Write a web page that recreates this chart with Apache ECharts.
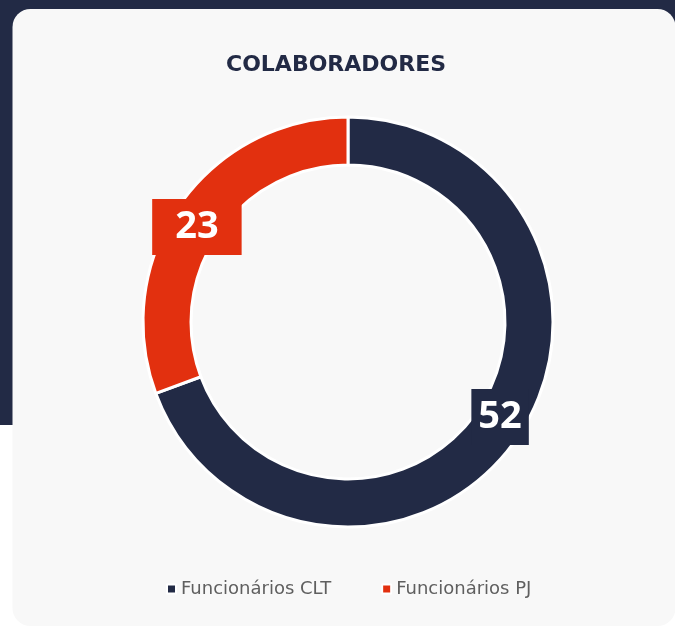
<!DOCTYPE html>
<html>
<head>
<meta charset="utf-8">
<script src="https://cdn.jsdelivr.net/npm/echarts@6/dist/echarts.min.js"></script>
<style>
  html, body { margin: 0; padding: 0; background: #ffffff; }
  #chart { width: 675px; height: 627px; }
</style>
</head>
<body>
<div id="chart"></div>
<script>
// dados do gráfico
var categorias = ['Funcionários CLT', 'Funcionários PJ'];
var valores = [52, 23];
var cores = ['#222a45', '#e2300f'];

var NAVY = '#222a45';

var myChart = echarts.init(document.getElementById('chart'));

// caixa de rótulo de cada fatia (largura e deslocamento diferentes no original)
var paddings = [[8, 7, 8, 7], [8, 23, 8, 23]];
var offsets = [[1, -10], [0, 10]];

var dados = categorias.map(function (nome, i) {
    return {
        name: nome,
        value: valores[i],
        itemStyle: { color: cores[i] },
        label: { backgroundColor: cores[i], padding: paddings[i], offset: offsets[i] }
    };
});

var option = {
    backgroundColor: '#ffffff',
    graphic: [
        // fundo azul escuro atrás do cartão
        { type: 'rect', z: -10, shape: { x: 0, y: 0, width: 675, height: 425 }, style: { fill: NAVY } },
        // cartão claro
        { type: 'rect', z: -9, shape: { x: 12.5, y: 9, width: 663, height: 617, r: 18 }, style: { fill: '#f8f8f8' } }
    ],
    title: {
        text: 'COLABORADORES',
        left: 226,
        top: 54,
        padding: 0,
        textStyle: {
            fontFamily: 'DejaVu Sans',
            fontWeight: 'bold',
            fontSize: 22,
            color: NAVY
        }
    },
    legend: {
        data: categorias,
        left: 166,
        top: 580,
        padding: 0,
        icon: 'rect',
        itemWidth: 9,
        itemHeight: 9,
        itemGap: 50,
        itemStyle: { borderColor: '#ffffff', borderWidth: 2 },
        textStyle: {
            fontFamily: 'DejaVu Sans',
            fontSize: 18,
            color: '#5f5f5f'
        }
    },
    series: [
        {
            type: 'pie',
            center: [348, 322],
            radius: [157, 205],
            startAngle: 90,
            clockwise: true,
            avoidLabelOverlap: false,
            itemStyle: {
                borderColor: '#ffffff',
                borderWidth: 3
            },
            label: {
                show: true,
                position: 'inside',
                formatter: '{c}',
                color: '#ffffff',
                fontFamily: 'Open Sans',
                fontWeight: 'bold',
                fontSize: 38,
                lineHeight: 40
            },
            labelLine: { show: false },
            emphasis: { disabled: true },
            data: dados
        }
    ]
};

myChart.setOption(option);
</script>
</body>
</html>
